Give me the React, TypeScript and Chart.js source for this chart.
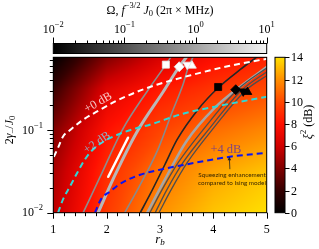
import React, { useEffect, useRef } from "react";
import { Chart, registerables } from "chart.js";
Chart.register(...registerables);

// ---- background map: xi^2 (dB) on a coarse grid (rows follow heatY, columns follow heatR)
const heatR = [1, 2, 3, 4, 5];
const heatY = [0.01, 0.0316, 0.1, 0.316, 0.76];
const heatXi = [
  [5.5, 9.5, 12, 13.3, 14],
  [5, 9, 11.2, 12.5, 13.3],
  [4, 8, 9.8, 11, 11.8],
  [2, 6.5, 8.3, 9.3, 10],
  [0, 4, 6.3, 7.8, 8.6],
];
const xiStops = [0, 2, 4, 6, 8, 10, 12, 14];
const xiColors = ["#000000", "#350000", "#800000", "#d00000", "#ff1000", "#ff4800", "#ff9000", "#ffe000"];
const xiTicks = [0, 2, 4, 6, 8, 10, 12, 14];

// ---- axes
const rTicks = [1, 2, 3, 4, 5];
const yDecades = [0.01, 0.1];
const omegaDecades = [0.01, 0.1, 1, 10];

// ---- trajectories (r_b, 2gamma/J0)
const g1R = [1.56, 1.87, 2.29, 2.78, 3.11, 3.23];
const g1Y = [0.01, 0.0265, 0.099, 0.307, 0.617, 0.81];
const g2R = [1.84, 2.16, 2.57, 3.06, 3.36, 3.53];
const g2Y = [0.01, 0.0288, 0.0953, 0.29, 0.582, 0.81];
const wR = [2.03, 2.4];
const wY = [0.0272, 0.0807];
const g3R = [2.34, 2.63, 2.96, 3.23, 3.43, 3.54, 3.64];
const g3Y = [0.01, 0.0218, 0.0578, 0.166, 0.353, 0.598, 0.81];
const l1R = [2.63, 2.81, 3.09, 3.32, 3.71, 4.09, 4.5, 4.87];
const l1Y = [0.01, 0.0165, 0.038, 0.0764, 0.176, 0.324, 0.536, 0.81];
const g4R = [2.76, 3.09, 3.49, 4.03, 4.5, 5.06];
const g4Y = [0.01, 0.0251, 0.0722, 0.186, 0.334, 0.615];
const l2aR = [2.81, 3.04, 3.34, 3.84, 4.43, 5.06];
const l2aY = [0.01, 0.019, 0.0402, 0.1067, 0.2985, 0.598];
const l2bR = [2.91, 3.13, 3.43, 3.94, 4.52, 5.06];
const l2bY = [0.01, 0.019, 0.0402, 0.1067, 0.2985, 0.536];
const l2cR = [2.98, 3.21, 3.51, 4.01, 4.6, 5.06];
const l2cY = [0.01, 0.019, 0.0402, 0.1067, 0.2985, 0.48];

// ---- contour lines of enhancement
const c0R = [1.01, 1.09, 1.18, 1.31, 1.56, 1.88, 2.19, 2.57, 2.94, 3.62, 4.31, 5.01];
const c0Y = [0.0475, 0.0611, 0.083, 0.0992, 0.133, 0.176, 0.226, 0.29, 0.353, 0.467, 0.598, 0.728];
const c2R = [1.09, 1.18, 1.31, 1.46, 1.59, 1.74, 1.97, 2.25, 2.53, 2.81, 3.43, 4.13, 5.01];
const c2Y = [0.01, 0.0144, 0.0206, 0.0313, 0.0438, 0.0578, 0.0742, 0.0902, 0.1037, 0.116, 0.1574, 0.197, 0.253];
const c4R = [1.78, 1.89, 2.06, 2.29, 2.63, 3.0, 3.56, 4.31, 5.0];
const c4Y = [0.01, 0.0144, 0.018, 0.0231, 0.0288, 0.0331, 0.0391, 0.0475, 0.0531];

// ---- markers
const whiteR = [3.11, 3.36, 3.51, 3.6];
const whiteY = [0.617, 0.582, 0.617, 0.6];
const blackR = [4.09, 4.42, 4.56, 4.64];
const blackY = [0.331, 0.307, 0.293, 0.288];
const markerStyles = ["rect", "rectRot", "triangle", "triangle"];
const markerRot = [0, 0, 180, 0];

// ---- annotations
const label0 = { r: 1.84, y: 0.214, text: "+0 dB" };
const label2 = { r: 1.82, y: 0.0701, text: "+2 dB" };
const label4 = { r: 4.235, y: 0.0578, text: "+4 dB" };
const noteLines = ["Squeezing enhancement", "compared to Ising model"];
const noteR = 4.35;
const noteY = [0.0288, 0.0229];
const arrowR = [4.31, 4.3];
const arrowY = [0.0336, 0.0462];

const SERIF = "'Liberation Serif','DejaVu Serif',serif";

const pts = (rs: number[], ys: number[]) => rs.map((r, i) => ({ x: r, y: ys[i] }));

function hexRgb(h: string) {
  return [parseInt(h.slice(1, 3), 16), parseInt(h.slice(3, 5), 16), parseInt(h.slice(5, 7), 16)];
}
const xiRgb = xiColors.map(hexRgb);
function cmap(v: number) {
  const c = Math.max(0, Math.min(14, v));
  let k = 0;
  while (k < xiStops.length - 2 && c > xiStops[k + 1]) k++;
  const t = (c - xiStops[k]) / (xiStops[k + 1] - xiStops[k]);
  const a = xiRgb[k], b = xiRgb[k + 1];
  return [a[0] + (b[0] - a[0]) * t, a[1] + (b[1] - a[1]) * t, a[2] + (b[2] - a[2]) * t];
}
const heatLY = heatY.map((v) => Math.log10(v));
function locate(arr: number[], v: number) {
  let k = 0;
  while (k < arr.length - 2 && v > arr[k + 1]) k++;
  let t = (v - arr[k]) / (arr[k + 1] - arr[k]);
  t = Math.max(0, Math.min(1, t));
  return [k, t];
}
function heatAt(r: number, ly: number) {
  const [i, tx] = locate(heatR, r);
  const [j, ty] = locate(heatLY, ly);
  const a = heatXi[j][i], b = heatXi[j][i + 1], c = heatXi[j + 1][i], d = heatXi[j + 1][i + 1];
  return (a * (1 - tx) + b * tx) * (1 - ty) + (c * (1 - tx) + d * tx) * ty;
}

type Part = { t: string; s?: number; i?: boolean; dy?: number };
function fontOf(p: Part, base: number, fam: string) {
  return `${p.i ? "italic " : ""}${p.s ?? base}px ${fam}`;
}
function drawRich(ctx: CanvasRenderingContext2D, parts: Part[], x: number, y: number, base: number, align: string, color: string, fam = SERIF) {
  ctx.textBaseline = "middle";
  ctx.textAlign = "left";
  let w = 0;
  for (const p of parts) {
    ctx.font = fontOf(p, base, fam);
    w += ctx.measureText(p.t).width;
  }
  let cx = align === "center" ? x - w / 2 : align === "right" ? x - w : x;
  ctx.fillStyle = color;
  for (const p of parts) {
    ctx.font = fontOf(p, base, fam);
    ctx.fillText(p.t, cx, y + (p.dy ?? 0));
    cx += ctx.measureText(p.t).width;
  }
}
const pow10 = (e: number): Part[] => [{ t: "10" }, { t: e < 0 ? "−" + -e : String(e), s: 8.5, dy: -5 }];

const heatPlugin = {
  id: "heat",
  beforeDatasetsDraw(chart: any) {
    const { ctx, chartArea: a, scales } = chart;
    const xs = scales.x, ys = scales.y;
    const w = Math.round(a.right - a.left), h = Math.round(a.bottom - a.top);
    const off = document.createElement("canvas");
    off.width = w;
    off.height = h;
    const o = off.getContext("2d")!;
    const img = o.createImageData(w, h);
    for (let j = 0; j < h; j++) {
      const ly = Math.log10(ys.getValueForPixel(a.top + ((j + 0.5) * (a.bottom - a.top)) / h));
      for (let i = 0; i < w; i++) {
        const r = xs.getValueForPixel(a.left + ((i + 0.5) * (a.right - a.left)) / w);
        const c = cmap(heatAt(r, ly));
        const k = (j * w + i) * 4;
        img.data[k] = c[0];
        img.data[k + 1] = c[1];
        img.data[k + 2] = c[2];
        img.data[k + 3] = 255;
      }
    }
    o.putImageData(img, 0, 0);
    ctx.drawImage(off, a.left, a.top, a.right - a.left, a.bottom - a.top);
  },
};

const decoPlugin = {
  id: "deco",
  afterDraw(chart: any) {
    const { ctx, chartArea: a, scales } = chart;
    const xs = scales.x, ys = scales.y, om = scales.om, xi = scales.xi;
    ctx.save();
    ctx.strokeStyle = "#000";
    ctx.lineWidth = 1;
    ctx.strokeRect(a.left, a.top, a.right - a.left, a.bottom - a.top);
    const line = (x1: number, y1: number, x2: number, y2: number) => {
      ctx.beginPath();
      ctx.moveTo(x1, y1);
      ctx.lineTo(x2, y2);
      ctx.stroke();
    };
    // y ticks (log)
    for (const d of [0.01, 0.1, 1]) {
      for (let k = 1; k <= 9; k++) {
        const v = k * d;
        if (v < ys.min - 1e-9 || v > ys.max) continue;
        const py = Math.round(ys.getPixelForValue(v)) + 0.5;
        line(a.left, py, a.left - (k === 1 ? 6 : 3.5), py);
      }
    }
    for (const d of yDecades) {
      drawRich(ctx, pow10(Math.round(Math.log10(d))), 43, ys.getPixelForValue(d) + 0.5, 12, "right", "#000");
    }
    // x ticks
    for (let v = 1; v <= 5.0001; v += 0.2) {
      const px = Math.round(xs.getPixelForValue(v)) + 0.5;
      const major = Math.abs(v - Math.round(v)) < 1e-6;
      line(px, a.bottom, px, a.bottom + (major ? 6 : 3.5));
    }
    for (const v of rTicks) {
      drawRich(ctx, [{ t: String(v) }], xs.getPixelForValue(v), 230, 12, "center", "#000");
    }
    drawRich(ctx, [{ t: "r", i: true, s: 13 }, { t: "b", i: true, s: 9, dy: 3 }], (a.left + a.right) / 2, 240, 12, "center", "#000");
    // y title
    ctx.save();
    ctx.translate(10, 130);
    ctx.rotate(-Math.PI / 2);
    drawRich(
      ctx,
      [{ t: "2" }, { t: "γ", i: true }, { t: "−", s: 8.5, dy: 3 }, { t: "/" }, { t: "J", i: true }, { t: "0", s: 8.5, dy: 3 }],
      0, 0, 12, "center", "#000"
    );
    ctx.restore();

    // top colour bar (Omega)
    const bl = om.getPixelForValue(0.01), br = om.getPixelForValue(10);
    const bt = 43.5, bb = 53.5;
    const g = ctx.createLinearGradient(bl, 0, br, 0);
    g.addColorStop(0, "#000000");
    g.addColorStop(1, "#f4f4f4");
    ctx.fillStyle = g;
    ctx.fillRect(bl, bt, br - bl, bb - bt);
    ctx.strokeStyle = "#000";
    ctx.strokeRect(bl, bt, br - bl, bb - bt);
    for (const d of [0.01, 0.1, 1, 10]) {
      for (let k = 1; k <= 9; k++) {
        const v = k * d;
        if (v > 10.0001) continue;
        const px = Math.round(om.getPixelForValue(v)) + 0.5;
        line(px, bt, px, bt - (k === 1 ? 6 : 3));
      }
    }
    for (const d of omegaDecades) {
      drawRich(ctx, pow10(Math.round(Math.log10(d))), om.getPixelForValue(d), 30, 12, "center", "#000");
    }
    drawRich(
      ctx,
      [
        { t: "Ω, " },
        { t: "f", i: true },
        { t: "−3/2", s: 8.5, dy: -5 },
        { t: " " },
        { t: "J", i: true },
        { t: "0", s: 8.5, dy: 3 },
        { t: " (2π × MHz)" },
      ],
      (bl + br) / 2, 11, 12, "center", "#000"
    );

    // right colour bar (xi^2)
    const cl = 275, cr = 285;
    const ct = xi.getPixelForValue(14), cb = xi.getPixelForValue(0);
    const g2 = ctx.createLinearGradient(0, cb, 0, ct);
    xiStops.forEach((s, i) => g2.addColorStop(s / 14, xiColors[i]));
    ctx.fillStyle = g2;
    ctx.fillRect(cl, ct, cr - cl, cb - ct);
    ctx.strokeStyle = "#000";
    ctx.strokeRect(cl, ct, cr - cl, cb - ct);
    for (const v of xiTicks) {
      const py = Math.round(xi.getPixelForValue(v)) + 0.5;
      line(cr, py, cr + 4.5, py);
      drawRich(ctx, [{ t: String(v) }], 291, py, 12, "left", "#000");
    }
    ctx.save();
    ctx.translate(309, 122);
    ctx.rotate(-Math.PI / 2);
    drawRich(ctx, [{ t: "ξ", i: true }, { t: "2", s: 8.5, dy: -5 }, { t: " (dB)" }], 0, 0, 12, "center", "#000");
    ctx.restore();

    // contour labels
    const lab = (L: any, ang: number, color: string, size: number) => {
      ctx.save();
      ctx.translate(xs.getPixelForValue(L.r), ys.getPixelForValue(L.y));
      ctx.rotate(ang);
      drawRich(ctx, [{ t: L.text }], 0, 0, size, "center", color);
      ctx.restore();
    };
    lab(label0, -0.52, "rgba(255,255,255,0.78)", 12);
    lab(label2, -0.6, "rgba(120,215,245,0.8)", 12);
    lab(label4, 0, "rgba(40,20,220,0.62)", 12.5);

    // note + arrow
    ctx.strokeStyle = "#222";
    ctx.lineWidth = 0.8;
    const ax1 = xs.getPixelForValue(arrowR[0]), ay1 = ys.getPixelForValue(arrowY[0]);
    const ax2 = xs.getPixelForValue(arrowR[1]), ay2 = ys.getPixelForValue(arrowY[1]);
    line(ax1, ay1, ax2, ay2);
    ctx.fillStyle = "#222";
    ctx.beginPath();
    ctx.moveTo(ax2, ay2 - 1);
    ctx.lineTo(ax2 - 1.8, ay2 + 2.5);
    ctx.lineTo(ax2 + 1.8, ay2 + 2.5);
    ctx.closePath();
    ctx.fill();
    noteLines.forEach((t, i) => {
      drawRich(ctx, [{ t }], xs.getPixelForValue(noteR), ys.getPixelForValue(noteY[i]), 6.3, "center", "#3a2800", "Lato, 'Open Sans', sans-serif");
    });
    ctx.restore();
  },
};

function lineDs(rs: number[], ys: number[], color: string, width: number, order: number, dash: number[] = []) {
  return {
    data: pts(rs, ys),
    borderColor: color,
    borderWidth: width,
    borderDash: dash,
    pointRadius: 0,
    fill: false,
    cubicInterpolationMode: "monotone",
    clip: 0,
    order,
    borderCapStyle: dash.length ? "butt" : "round",
  };
}

function markerDs(rs: number[], ys: number[], fill: string, stroke: string) {
  return rs.map((r, i) => ({
    data: [{ x: r, y: ys[i] }],
    showLine: false,
    pointStyle: markerStyles[i],
    rotation: markerRot[i],
    pointRotation: markerRot[i],
    pointRadius: i < 2 ? 5 : 5,
    backgroundColor: fill,
    borderColor: stroke,
    borderWidth: 0.8,
    order: 0,
    clip: false,
  }));
}

export default function App() {
  const ref = useRef<HTMLCanvasElement | null>(null);
  useEffect(() => {
    if (!ref.current) return;
    const datasets: any[] = [
      ...markerDs(whiteR, whiteY, "#ffffff", "#e8e8e8"),
      ...markerDs(blackR, blackY, "#000000", "#000000"),
      lineDs(c0R, c0Y, "#ffffff", 2, 1, [6, 4]),
      lineDs(c2R, c2Y, "#2fd6d6", 2, 1, [6, 4]),
      lineDs(c4R, c4Y, "#0a14f0", 2, 1, [6, 4]),
      lineDs(wR, wY, "#ffffff", 2.5, 2),
      lineDs(l1R, l1Y, "#262626", 1.6, 2),
      lineDs(l2aR, l2aY, "#4e4e4e", 1.3, 3),
      lineDs(l2bR, l2bY, "#4e4e4e", 1.3, 3),
      lineDs(l2cR, l2cY, "#4e4e4e", 1.3, 3),
      lineDs(g4R, g4Y, "#a6a6a6", 2.5, 4),
      lineDs(g3R, g3Y, "#8a8a8a", 1.6, 4),
      lineDs(g1R, g1Y, "#8c8c8c", 1.6, 4),
      lineDs(g2R, g2Y, "#b8b8b8", 3, 4),
    ];
    const chart = new Chart(ref.current, {
      type: "line",
      data: { datasets },
      options: {
        responsive: false,
        animation: false,
        devicePixelRatio: 1,
        events: [],
        layout: { padding: { left: 53.3, right: 319 - 266.7, top: 57.3, bottom: 249 - 212.7 } },
        plugins: { legend: { display: false }, tooltip: { enabled: false } },
        scales: {
          x: { type: "linear", min: 1, max: 5, display: false },
          y: { type: "logarithmic", min: 0.01, max: 0.757, display: false },
          om: { type: "logarithmic", axis: "x", position: "top", min: 0.01, max: 10, display: false },
          xi: { type: "linear", axis: "y", position: "right", min: 0, max: 14, display: false },
        },
      } as any,
      plugins: [heatPlugin, decoPlugin],
    });
    return () => chart.destroy();
  }, []);
  return (
    <div style={{ position: "fixed", left: 0, top: 0, width: 319, height: 249, background: "#fff" }}>
      <canvas ref={ref} width={319} height={249} style={{ display: "block" }} />
    </div>
  );
}
